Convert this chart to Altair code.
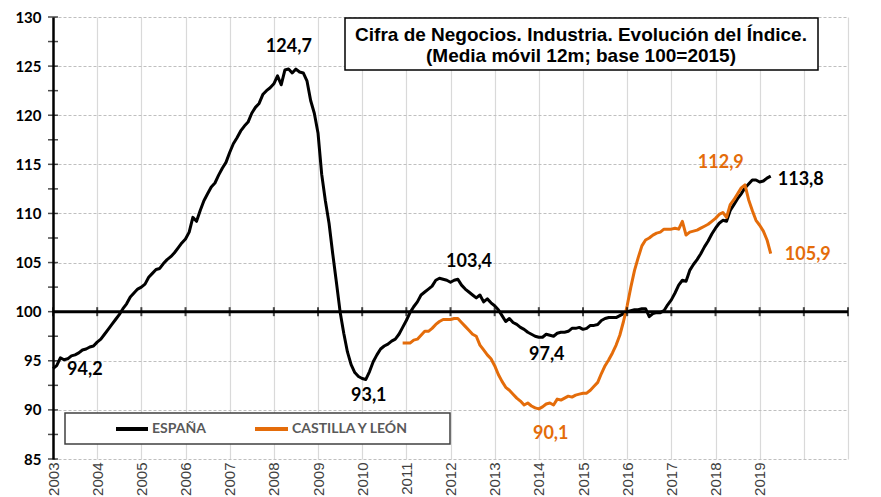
import altair as alt
import pandas as pd

# ---------------- data ----------------
start_year = 2003
espana = [
    94.2, 94.5, 95.3, 95.1, 95.2, 95.5, 95.6, 95.8, 96.1, 96.2, 96.4, 96.5,
    96.9, 97.2, 97.7, 98.2, 98.7, 99.2, 99.7, 100.3, 100.8, 101.5, 101.9, 102.3,
    102.5, 102.8, 103.5, 103.9, 104.3, 104.4, 104.9, 105.3, 105.6, 106.0, 106.5, 107.0,
    107.4, 108.1, 109.6, 109.2, 110.3, 111.3, 112.0, 112.7, 113.1, 113.9, 114.6, 115.2,
    116.2, 117.1, 117.7, 118.4, 118.9, 119.3, 120.2, 120.8, 121.2, 122.1, 122.5, 122.8,
    123.2, 124.0, 123.1, 124.6, 124.7, 124.3, 124.7, 124.4, 124.3, 123.5, 121.5, 120.2,
    118.2, 114.0, 111.3, 109.0, 105.9, 103.0, 100.0, 97.8, 95.9, 94.6, 93.8, 93.4,
    93.2, 93.1, 93.9, 94.9, 95.6, 96.2, 96.5, 96.7, 97.0, 97.2, 97.7, 98.4,
    99.1, 99.9, 100.5, 101.0, 101.7, 102.0, 102.3, 102.6, 103.2, 103.4, 103.3, 103.2,
    103.0, 103.2, 103.3, 102.7, 102.3, 102.0, 101.7, 101.4, 101.7, 101.0, 101.3, 100.9,
    100.6, 100.2, 99.6, 99.0, 99.3, 98.9, 98.7, 98.4, 98.2, 97.9, 97.7, 97.5,
    97.4, 97.4, 97.7, 97.6, 97.5, 97.8, 97.9, 97.9, 98.0, 98.3, 98.3, 98.4,
    98.2, 98.3, 98.6, 98.6, 98.7, 99.1, 99.3, 99.4, 99.4, 99.4, 99.6, 99.8,
    100.0, 100.1, 100.2, 100.2, 100.3, 100.3, 99.5, 99.8, 99.9, 99.9, 100.1, 100.7,
    101.2, 101.9, 102.7, 103.2, 103.1, 104.2, 104.8, 105.3, 105.9, 106.6, 107.2, 107.9,
    108.5, 109.0, 109.3, 109.2, 110.3, 110.9, 111.5, 112.0, 112.6, 113.0, 113.4, 113.4,
    113.2, 113.3, 113.6, 113.8,
]
cyl_start_month = 95  # Dec 2010
cyl = [
    96.8, 96.8, 96.8, 97.1, 97.2, 97.6, 98.0, 98.0, 98.3, 98.7,
    99.0, 99.2, 99.2, 99.2, 99.3, 99.3, 98.9, 98.5, 98.1, 97.7,
    97.5, 96.6, 96.1, 95.6, 95.2, 94.5, 93.6, 92.9, 92.3, 92.0,
    91.6, 91.2, 90.9, 90.5, 90.7, 90.4, 90.2, 90.1, 90.3, 90.6,
    90.7, 90.5, 91.1, 91.0, 91.2, 91.4, 91.3, 91.5, 91.6, 91.7,
    91.7, 92.0, 92.4, 92.8, 93.7, 94.5, 95.1, 95.8, 96.6, 97.6,
    99.0, 100.6, 102.5, 104.2, 105.5, 106.7, 107.3, 107.5, 107.8, 108.0,
    108.1, 108.4, 108.4, 108.4, 108.5, 108.4, 109.2, 107.8, 108.1, 108.2,
    108.3, 108.5, 108.7, 108.9, 109.2, 109.5, 109.9, 110.1, 109.6, 110.9,
    111.4, 112.0, 112.6, 112.9, 111.4, 110.3, 109.3, 108.8, 108.2, 107.3,
    105.9,
]
series_names = ["ESPAÑA", "CASTILLA Y LEÓN"]
series_colors = ["#000000", "#E46C0A"]
x_years = list(range(2003, 2022))
last_labelled_year = 2019
y_major = [85, 90, 95, 100, 105, 110, 115, 120, 125, 130]
y_all_ticks = [85 + 2.5 * k for k in range(19)]
title_lines = ["Cifra de Negocios. Industria. Evolución del Índice.",
               "(Media móvil 12m; base 100=2015)"]
ann_text = ["94,2", "124,7", "93,1", "103,4", "97,4", "90,1", "112,9", "113,8", "105,9"]
ann_series = ["ESPAÑA", "ESPAÑA", "ESPAÑA", "ESPAÑA", "ESPAÑA",
              "CASTILLA Y LEÓN", "CASTILLA Y LEÓN", "ESPAÑA", "CASTILLA Y LEÓN"]
# label anchor positions (layout)
ann_x = [2003.72, 2008.34, 2010.15, 2012.42, 2014.18, 2014.27, 2018.12, 2019.93, 2020.09]
ann_y = [94.05, 126.95, 91.4, 105.05, 95.58, 87.54, 115.13, 113.4, 105.76]

# ---------------- tables ----------------
rows = []
for i, v in enumerate(espana):
    rows.append({"serie": "ESPAÑA", "t": start_year + i / 12, "v": v})
for i, v in enumerate(cyl):
    rows.append({"serie": "CASTILLA Y LEÓN", "t": start_year + (cyl_start_month + i) / 12, "v": v})
df = pd.DataFrame(rows)
ann = pd.DataFrame({"text": ann_text, "serie": ann_series, "x": ann_x, "y": ann_y})

W, H = 795, 442
xs = alt.Scale(domain=[2003, 2021], nice=False, zero=False)
ys = alt.Scale(domain=[85, 130], nice=False, zero=False)
cs = alt.Scale(domain=series_names, range=series_colors)

x_axis = alt.Axis(
    values=x_years, grid=True, gridColor="#d9d9d9", gridWidth=1.2,
    domain=False, ticks=False, labelAngle=270, format="d",
    labelExpr=f"datum.value <= {last_labelled_year} ? datum.label : ''",
    labelFont="Liberation Sans", labelFontSize=15, labelColor="#404040",
    labelPadding=3, title=None)
y_axis = alt.Axis(
    values=y_major, grid=True, gridColor="#bfbfbf", gridDash=[3, 2], gridWidth=1.2,
    domainColor="#000000", domainWidth=2.5, ticks=False,
    labelFont="Lato", labelFontWeight="bold", labelFontSize=15, labelColor="#000000",
    labelPadding=12, title=None)

lines = alt.Chart(df).mark_line(strokeWidth=3, strokeJoin="round").encode(
    x=alt.X("t:Q", scale=xs, axis=x_axis),
    y=alt.Y("v:Q", scale=ys, axis=y_axis),
    color=alt.Color("serie:N", scale=cs, legend=None),
    detail="serie:N",
)

one = pd.DataFrame({"a": [0]})
base100 = alt.Chart(pd.DataFrame({"x0": [2003], "x1": [2021], "y0": [100]})).mark_rule(
    color="black", strokeWidth=3).encode(
    x=alt.X("x0:Q", scale=xs, axis=x_axis), x2="x1:Q",
    y=alt.Y("y0:Q", scale=ys, axis=y_axis))

year_ticks = alt.Chart(pd.DataFrame({"yr": x_years, "y0": [100] * len(x_years)})).mark_tick(
    orient="vertical", size=9, thickness=2, color="black").encode(
    x=alt.X("yr:Q", scale=xs, axis=x_axis), y=alt.Y("y0:Q", scale=ys, axis=y_axis))

y_ticks = alt.Chart(pd.DataFrame({"tv": y_all_ticks, "x0": [2003] * len(y_all_ticks)})).mark_tick(
    orient="horizontal", size=10, thickness=1.5, color="black").encode(
    y=alt.Y("tv:Q", scale=ys, axis=y_axis), x=alt.X("x0:Q", scale=xs, axis=x_axis))

labels = alt.Chart(ann).mark_text(font="Lato", fontWeight="bold", fontSize=18,
                                  align="center", baseline="middle").encode(
    x=alt.X("x:Q", scale=xs, axis=x_axis), y=alt.Y("y:Q", scale=ys, axis=y_axis),
    text="text:N", color=alt.Color("serie:N", scale=cs, legend=None))

title_box = alt.Chart(one).mark_rect(fill="white", stroke="black", strokeWidth=1.5).encode(
    x=alt.value(292), x2=alt.value(765), y=alt.value(1), y2=alt.value(53))
title_txt = alt.Chart(pd.DataFrame({"t": title_lines, "yy": [18, 39]})).mark_text(
    font="Liberation Sans", fontWeight="bold", fontSize=19, align="center", baseline="middle",
    color="black").encode(x=alt.value(528), y=alt.Y("yy:Q", scale=None), text="t:N")

leg_box = alt.Chart(one).mark_rect(fill="white", stroke="#404040", strokeWidth=1.5).encode(
    x=alt.value(12), x2=alt.value(397), y=alt.value(396), y2=alt.value(427))
leg_df = pd.DataFrame({"serie": series_names, "x0": [63, 202], "x1": [95, 235], "xt": [99, 239]})
leg_lines = alt.Chart(leg_df).mark_rule(strokeWidth=4).encode(
    x=alt.X("x0:Q", scale=None), x2="x1:Q", y=alt.value(412),
    color=alt.Color("serie:N", scale=cs, legend=None))
leg_text = alt.Chart(leg_df).mark_text(font="Lato", fontWeight="bold", fontSize=14,
                                       align="left", baseline="middle", color="#595959").encode(
    x=alt.X("xt:Q", scale=None), y=alt.value(412), text="serie:N")

chart = alt.layer(
    lines, base100, year_ticks, y_ticks, title_box, title_txt,
    leg_box, leg_lines, leg_text, labels
).properties(
    width=W, height=H,
    autosize=alt.AutoSizeParams(type="none"),
    padding={"left": 45, "top": 9, "right": 25, "bottom": 38},
    background="white",
).configure_view(strokeWidth=0)

chart.save("out.html", embed_options={"renderer": "svg", "actions": False})
